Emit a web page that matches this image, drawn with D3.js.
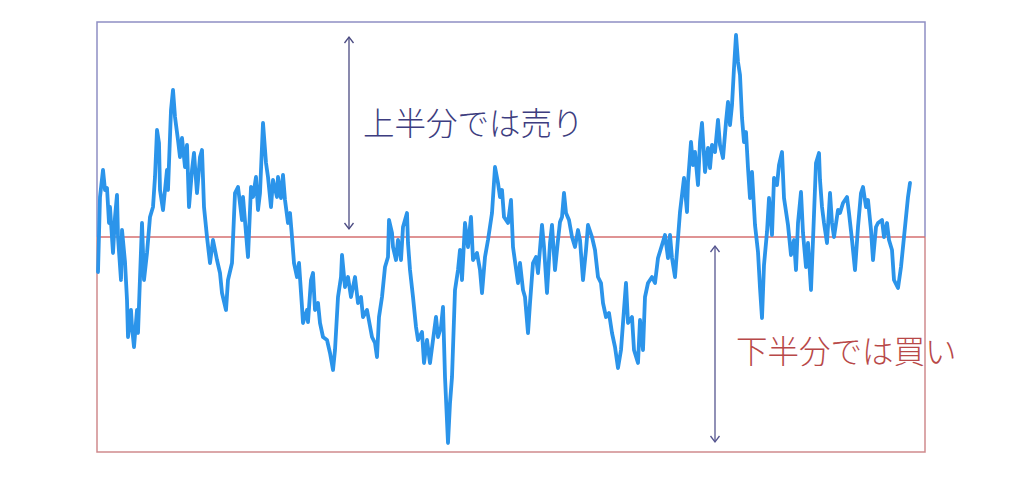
<!DOCTYPE html>
<html><head><meta charset="utf-8">
<script src="https://cdn.jsdelivr.net/npm/d3@7"></script>
<style>html,body{margin:0;padding:0;background:#fff;}svg{display:block;}</style>
</head><body>
<svg id="c" width="1024" height="480"></svg>
<script>
// Time (days) and deviation from the midline value
const days = [1,3,6,8,10,12,13,16,18,20,21,24,25,28,30,31,34,35,37,40,41,45,47,50,53,56,58,60,62,63,66,70,71,74,76,78,81,83,85,88,90,92,95,97,100,103,105,107,110,113,116,120,123,125,129,131,135,138,141,145,146,151,154,156,159,161,163,166,169,171,174,176,180,181,184,186,188,191,193,195,197,200,202,205,206,210,211,214,216,218,221,223,226,230,233,236,238,241,244,245,248,251,254,258,261,264,266,270,275,278,280,282,285,288,291,292,295,296,299,301,304,306,310,311,313,316,319,321,325,327,330,333,336,339,341,344,346,348,351,353,355,358,361,363,365,368,371,374,376,380,383,385,388,391,395,398,401,403,405,407,411,414,416,421,423,426,428,431,433,436,439,441,445,447,450,453,455,458,461,463,465,467,469,472,475,478,481,483,486,489,491,495,498,501,504,506,509,512,515,518,521,524,526,529,531,535,537,541,543,546,548,551,555,558,561,565,568,571,573,575,578,581,583,585,587,590,591,594,596,598,601,603,605,608,611,613,615,618,621,623,626,629,631,633,635,637,639,641,643,645,647,649,651,653,655,658,661,663,665,667,670,672,675,677,680,682,685,687,691,694,697,699,701,704,706,709,711,714,716,719,722,723,725,727,730,733,735,737,741,743,746,750,752,755,758,761,764,766,769,771,774,776,779,781,785,787,790,792,795,797,801,804,806,809,811,813];
const values = [-35,40,67,47,49,14,30,-16,20,42,0,-43,7,-25,-63,-100,-73,-90,-110,-73,-96,14,-43,-16,20,30,60,107,94,47,27,67,47,127,147,120,97,80,99,70,92,30,67,84,44,80,87,30,0,-26,-3,-23,-36,-56,-73,-43,-26,44,50,17,40,-20,50,40,60,27,44,114,74,60,30,57,40,60,39,62,37,14,24,0,-26,-40,-26,-70,-86,-73,-85,-43,-36,-73,-66,-86,-100,-103,-116,-133,-113,-60,-40,-18,-50,-40,-60,-40,-66,-60,-80,-73,-100,-106,-120,-80,-60,-30,-20,17,4,-10,-23,-3,-23,10,24,-6,-33,-60,-90,-103,-95,-126,-103,-126,-103,-80,-100,-90,-70,-140,-206,-166,-140,-53,-33,-13,-43,14,-10,20,-23,-16,-33,-56,-20,-3,24,70,54,40,47,20,14,37,-10,-46,-26,-53,-60,-96,-66,-26,-20,-36,12,-10,-56,-6,12,-33,-3,15,20,44,24,17,0,-10,7,-3,-43,-13,12,0,-13,-40,-46,-66,-80,-76,-96,-110,-131,-113,-86,-46,-86,-80,-113,-126,-83,-113,-60,-46,-40,-46,-21,-8,2,-21,2,-21,-40,-1,25,42,59,25,55,95,72,85,52,95,114,65,89,69,92,85,117,92,79,115,135,112,132,169,202,175,162,119,95,105,69,39,65,12,-15,-51,-81,-28,5,39,2,59,52,72,85,39,12,-18,-3,-33,14,45,4,-30,-6,-53,-3,74,84,57,30,14,-6,44,14,0,27,24,34,40,24,-3,-33,10,44,50,30,37,7,-23,10,14,17,0,14,-3,-13,-43,-51,-30,-10,20,40,54];
const dayRange = [0, 828];
const valueRange = [-215, 215];
const labelSell = "上半分では売り";
const labelBuy = "下半分では買い";

const svg = d3.select("#c");
const L = 97, R = 925, T = 22, B = 452;
const x = d3.scaleLinear().domain(dayRange).range([L, R]);
const y = d3.scaleLinear().domain(valueRange).range([B, T]);
const mid = y(0);

const blueBorder = "#8f8fc3", redBorder = "#cf8a8d";
svg.append("path").attr("d", `M${L},${mid}V${T}H${R}V${mid}`)
  .attr("fill","none").attr("stroke",blueBorder).attr("stroke-width",1.5);
svg.append("path").attr("d", `M${L},${mid}V${B}H${R}V${mid}`)
  .attr("fill","none").attr("stroke",redBorder).attr("stroke-width",1.5);
svg.append("line").attr("x1",L).attr("x2",R).attr("y1",mid).attr("y2",mid)
  .attr("stroke","#d46f70").attr("stroke-width",1.5);

const pts = days.map((d,i)=>[d, values[i]]);
const line = d3.line().x(d=>x(d[0])).y(d=>y(d[1]));
svg.append("path").datum(pts).attr("d", line)
  .attr("fill","none").attr("stroke","#2b94ea").attr("stroke-width",3.8)
  .attr("stroke-linejoin","round").attr("stroke-linecap","round");

function arrow(ax, y1, y2, color){
  const g = svg.append("g").attr("stroke",color).attr("stroke-width",1.3).attr("fill","none");
  g.append("line").attr("x1",ax).attr("x2",ax).attr("y1",y1).attr("y2",y2);
  g.append("path").attr("d",`M${ax-4.5},${y1+6}L${ax},${y1}L${ax+4.5},${y1+6}`);
  g.append("path").attr("d",`M${ax-4.5},${y2-6}L${ax},${y2}L${ax+4.5},${y2-6}`);
}
arrow(349, y(200), y(8), "#4b4b82");
arrow(715, y(-9), y(-205), "#55558f");

svg.append("text").attr("x",363).attr("y",121).attr("dominant-baseline","central")
  .attr("font-family","'Noto Sans CJK JP', sans-serif").attr("font-size",31.5).attr("font-weight",300)
  .attr("fill","#3d3d80").text(labelSell);
svg.append("text").attr("x",736).attr("y",349).attr("dominant-baseline","central")
  .attr("font-family","'Noto Sans CJK JP', sans-serif").attr("font-size",31.5).attr("font-weight",300)
  .attr("fill","#b84848").text(labelBuy);
</script>
</body></html>
